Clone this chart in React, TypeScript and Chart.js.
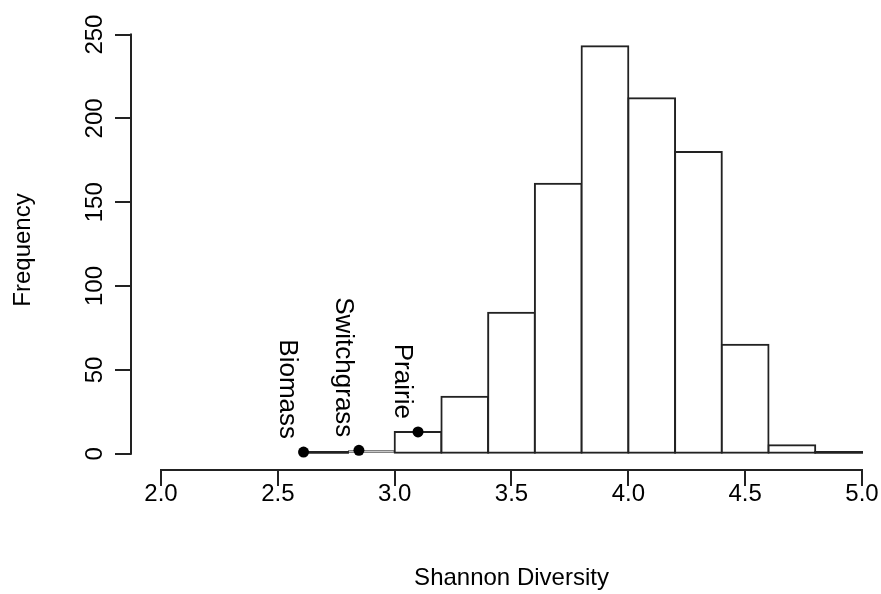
import React, { useEffect, useRef } from 'react';
import { Chart, registerables } from 'chart.js';

Chart.register(...registerables);

// ---- data ----
const binStarts = [2.6, 2.8, 3.0, 3.2, 3.4, 3.6, 3.8, 4.0, 4.2, 4.4, 4.6, 4.8];
const binWidth = 0.2;
const binCounts = [1, 2, 13, 34, 84, 161, 243, 212, 180, 65, 5, 1];

const pointNames = ['Biomass', 'Switchgrass', 'Prairie'];
const pointX = [2.61, 2.847, 3.1];
const pointY = [1, 2, 13];

const xTickValues = [2.0, 2.5, 3.0, 3.5, 4.0, 4.5, 5.0];
const xTickLabels = ['2.0', '2.5', '3.0', '3.5', '4.0', '4.5', '5.0'];
const yTickValues = [0, 50, 100, 150, 200, 250];
const yTickLabels = ['0', '50', '100', '150', '200', '250'];

const xTitle = 'Shannon Diversity';
const yTitle = 'Frequency';

// ---- layout / style ----
const W = 881;
const H = 594;
const FONT_FAMILY = "'Liberation Sans', Arial, Helvetica, sans-serif";
const FONT_SIZE = 24;
const LABEL_SIZE = 26;
const LINE = '#222222';

const padLeft = 9;
const padTop = 30;
const padRight = 6;
const padBottom = 5;
const plotLeft = 131;
const plotBottom = 470;
const plotRight = W - padRight;

const pxPerUnit = (862 - 161) / 3;
const xMin = 2 - (161 - plotLeft) / pxPerUnit;
const xMax = 5 + (plotRight - 862) / pxPerUnit;
const yMin = -9.72;
const yMax = 252.72;

const small = (i: number) => binCounts[i] <= 1;
const thin = (i: number) => binCounts[i] === 2;

const rPlugin = {
  id: 'rStyle',
  afterDatasetsDraw(chart: any) {
    const { ctx } = chart;
    const meta = chart.getDatasetMeta(1);
    ctx.save();
    ctx.fillStyle = '#000';
    ctx.font = `${LABEL_SIZE}px ${FONT_FAMILY}`;
    ctx.textAlign = 'right';
    ctx.textBaseline = 'middle';
    meta.data.forEach((el: any, i: number) => {
      ctx.save();
      ctx.translate(el.x - 16, el.y - 13);
      ctx.rotate(Math.PI / 2);
      ctx.fillText(pointNames[i], 0, 0);
      ctx.restore();
    });
    ctx.restore();
  },
  afterDraw(chart: any) {
    const { ctx, chartArea } = chart;
    const xs = chart.scales.x;
    const ys = chart.scales.y;
    ctx.save();
    ctx.strokeStyle = LINE;
    ctx.lineWidth = 2;
    ctx.lineCap = 'square';
    ctx.beginPath();
    const yl = chartArea.left;
    ctx.moveTo(yl, ys.getPixelForValue(yTickValues[0]));
    ctx.lineTo(yl, ys.getPixelForValue(yTickValues[yTickValues.length - 1]));
    const xb = chartArea.bottom;
    const x0 = xs.getPixelForValue(xTickValues[0]);
    const x1 = xs.getPixelForValue(xTickValues[xTickValues.length - 1]);
    ctx.moveTo(x0, xb);
    ctx.lineTo(x1, xb);
    ctx.stroke();
    // x axis title, centred on the axis span
    ctx.fillStyle = '#000';
    ctx.font = `${FONT_SIZE}px ${FONT_FAMILY}`;
    ctx.textAlign = 'center';
    ctx.textBaseline = 'middle';
    ctx.fillText(xTitle, (x0 + x1) / 2, 578);
    ctx.restore();
  },
};

export default function App() {
  const ref = useRef<HTMLCanvasElement | null>(null);

  useEffect(() => {
    if (!ref.current) return;
    const font = { family: FONT_FAMILY, size: FONT_SIZE };
    const chart = new Chart(ref.current, {
      type: 'bar',
      data: {
        datasets: [
          {
            type: 'bar',
            data: binStarts.map((s, i) => ({ x: s + binWidth / 2, y: binCounts[i] })),
            backgroundColor: (c: any) => (small(c.dataIndex) ? LINE : '#ffffff'),
            borderColor: LINE,
            borderWidth: (c: any) => (small(c.dataIndex) ? 0 : thin(c.dataIndex) ? 1 : 2),
            inflateAmount: (c: any) => (thin(c.dataIndex) ? 0 : 1),
            borderSkipped: false,
            categoryPercentage: 1,
            barPercentage: 1,
            order: 2,
          } as any,
          {
            type: 'scatter',
            data: pointX.map((x, i) => ({ x, y: pointY[i] })),
            pointRadius: 5.5,
            pointBackgroundColor: '#000',
            pointBorderWidth: 0,
            showLine: false,
            order: 1,
          } as any,
        ],
      },
      options: {
        responsive: false,
        animation: false,
        events: [],
        layout: { padding: { left: padLeft, top: padTop, right: padRight, bottom: padBottom } },
        plugins: { legend: { display: false }, tooltip: { enabled: false } },
        scales: {
          x: {
            type: 'linear',
            min: xMin,
            max: xMax,
            bounds: 'data',
            offset: false,
            afterBuildTicks: (s: any) => {
              s.ticks = xTickValues.map((v) => ({ value: v }));
            },
            afterFit: (s: any) => {
              s.height = H - padBottom - plotBottom;
            },
            grid: {
              display: true,
              drawOnChartArea: false,
              drawTicks: true,
              tickLength: 16,
              color: LINE,
              lineWidth: 2,
              offset: false,
            },
            border: { display: false },
            ticks: {
              color: '#000',
              font,
              padding: -6,
              minRotation: 0,
              maxRotation: 0,
              autoSkip: false,
              callback: (_v: any, i: number) => xTickLabels[i],
            },
            title: { display: false },
          },
          y: {
            type: 'linear',
            min: yMin,
            max: yMax,
            bounds: 'data',
            afterBuildTicks: (s: any) => {
              s.ticks = yTickValues.map((v) => ({ value: v }));
            },
            afterFit: (s: any) => {
              s.width = plotLeft - padLeft;
            },
            grid: {
              display: true,
              drawOnChartArea: false,
              drawTicks: true,
              tickLength: 16,
              color: LINE,
              lineWidth: 2,
            },
            border: { display: false },
            ticks: {
              color: '#000',
              font,
              padding: 0,
              minRotation: 90,
              maxRotation: 90,
              crossAlign: 'center',
              autoSkip: false,
              callback: (_v: any, i: number) => yTickLabels[i],
            },
            title: { display: true, text: yTitle, color: '#000', font, padding: 0 },
          },
        } as any,
      },
      plugins: [rPlugin],
    } as any);
    return () => chart.destroy();
  }, []);

  return (
    <div style={{ position: 'absolute', left: 0, top: 0, width: W, height: H, background: '#fff' }}>
      <canvas ref={ref} width={W} height={H} style={{ display: 'block' }} />
    </div>
  );
}
